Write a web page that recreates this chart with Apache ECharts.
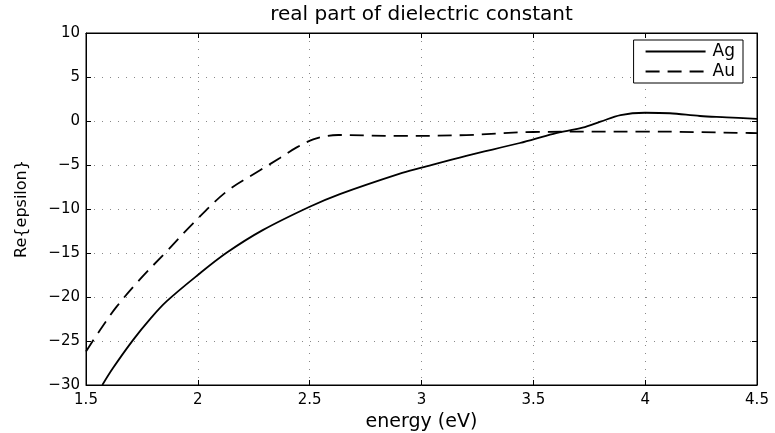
<!DOCTYPE html>
<html>
<head>
<meta charset="utf-8">
<script src="https://cdn.jsdelivr.net/npm/echarts@6/dist/echarts.min.js"></script>
<style>
    html, body { margin: 0; padding: 0; background: #fff; }
    #chart { width: 775px; height: 433px; }
</style>
</head>
<body>
<div id="chart"></div>
<script>
// Ag
var agEnergy = [1.573, 1.62, 1.71, 1.79, 1.86, 2.0, 2.13, 2.29, 2.5, 2.635, 2.9, 3.0, 3.2, 3.44, 3.59, 3.72, 3.80, 3.89, 4.0, 4.11, 4.245, 4.364, 4.5];
var agRe = [-30, -28.1, -24.9, -22.4, -20.5, -17.5, -14.95, -12.4, -9.74, -8.3, -6.0, -5.3, -3.95, -2.5, -1.45, -0.76, -0.08, 0.68, 0.94, 0.88, 0.57, 0.42, 0.23];
// Au
var auEnergy = [1.5, 1.563, 1.637, 1.741, 1.861, 1.98, 2.129, 2.278, 2.367, 2.442, 2.516, 2.576, 2.628, 2.9, 3.2, 3.5, 4.0, 4.45, 4.5];
var auRe = [-26.2, -23.75, -21.1, -18.0, -14.8, -11.6, -8.0, -5.6, -4.2, -3.0, -2.08, -1.7, -1.59, -1.7, -1.6, -1.25, -1.2, -1.36, -1.37];

var xTicks = { min: 1.5, max: 4.5, interval: 0.5 };
var yTicks = { min: -30, max: 10, interval: 5 };

function pairs(xs, ys) {
    return xs.map(function (x, i) { return [x, ys[i]]; });
}

var font = 'DejaVu Sans';
var chart = echarts.init(document.getElementById('chart'));

var tickStyle = { show: true, inside: true, length: 5, lineStyle: { color: '#000', width: 1 } };
var gridStyle = { show: true, lineStyle: { color: '#888', type: [1, 7], width: 1 } };
var lineAxis = { show: true, onZero: false, lineStyle: { color: '#000', width: 1 } };

var option = {
    animation: false,
    backgroundColor: '#fff',
    grid: {
        left: 86, right: 18, top: 33, bottom: 48,
        containLabel: false, outerBoundsMode: 'none',
        show: true, borderColor: '#000', borderWidth: 1
    },
    legend: {
        orient: 'vertical',
        right: 32,
        top: 40,
        itemWidth: 60,
        itemHeight: 14,
        itemGap: 3,
        padding: [3, 8, 3, 11],
        backgroundColor: '#fff',
        borderColor: '#000',
        borderWidth: 1,
        borderRadius: 0,
        itemStyle: { opacity: 0 },
        textStyle: { fontFamily: font, fontSize: 17, color: '#000', padding: [0, 0, 0, 2] },
        data: ['Ag', 'Au']
    },
    xAxis: [{
        type: 'value',
        min: xTicks.min, max: xTicks.max, interval: xTicks.interval,
        name: 'energy (eV)',
        nameLocation: 'middle',
        nameGap: 24,
        nameTextStyle: { fontFamily: font, fontSize: 19, color: '#000' },
        axisLine: lineAxis,
        axisTick: tickStyle,
        axisLabel: { fontFamily: font, fontSize: 15, color: '#000', margin: 8 },
        splitLine: gridStyle
    }, {
        type: 'value',
        position: 'top',
        min: xTicks.min, max: xTicks.max, interval: xTicks.interval,
        name: 'real part of dielectric constant',
        nameLocation: 'middle',
        nameGap: 8,
        nameTextStyle: { fontFamily: font, fontSize: 20, color: '#000' },
        axisLine: lineAxis,
        axisTick: tickStyle,
        axisLabel: { show: false },
        splitLine: { show: false }
    }],
    yAxis: [{
        type: 'value',
        min: yTicks.min, max: yTicks.max, interval: yTicks.interval,
        name: 'Re{epsilon}',
        nameLocation: 'middle',
        nameGap: 56,
        nameTextStyle: { fontFamily: font, fontSize: 16, color: '#000' },
        axisLine: lineAxis,
        axisTick: tickStyle,
        axisLabel: {
            fontFamily: font, fontSize: 15, color: '#000', margin: 6,
            formatter: function (v) { return v < 0 ? '\u2212' + (-v) : String(v); }
        },
        splitLine: gridStyle
    }, {
        type: 'value',
        position: 'right',
        min: yTicks.min, max: yTicks.max, interval: yTicks.interval,
        axisLine: lineAxis,
        axisTick: tickStyle,
        axisLabel: { show: false },
        splitLine: { show: false }
    }],
    series: [{
        name: 'Ag',
        type: 'line',
        data: pairs(agEnergy, agRe),
        symbol: 'none',
        smooth: 0.35,
        lineStyle: { color: '#000', width: 1.8, type: 'solid' },
        itemStyle: { color: '#000' }
    }, {
        name: 'Au',
        type: 'line',
        data: pairs(auEnergy, auRe),
        symbol: 'none',
        smooth: 0.35,
        lineStyle: { color: '#000', width: 1.8, type: [14, 8] },
        itemStyle: { color: '#000' }
    }]
};
chart.setOption(option);
</script>
</body>
</html>
